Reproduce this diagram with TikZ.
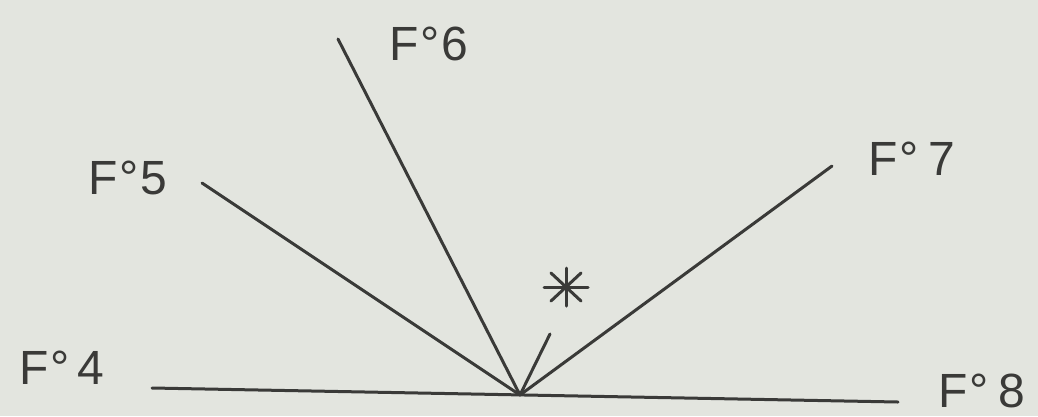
\documentclass[tikz,border=0pt]{standalone}
\usepackage{fontspec}
\setmainfont{Liberation Sans}
\definecolor{paper}{RGB}{227,229,223}
\definecolor{ink}{RGB}{58,58,56}
\tikzset{
  stroke/.style={draw=ink, line width=3pt, line cap=round},
  lbl/.style={text=ink, inner sep=0pt, font=\fontsize{48}{52}\selectfont},
}
\newcommand{\dg}{\kern2pt°\kern2pt}
\begin{document}
\begin{tikzpicture}[x=1pt,y=-1pt]
\fill[paper] (0,0) rectangle (1038,416);
\useasboundingbox (0,0) rectangle (1038,416);
% points
\coordinate (V) at (520,395);
\coordinate (L) at (152,388);
\coordinate (R) at (898,402);
\coordinate (E5) at (202,183);
\coordinate (E6) at (338,39);
\coordinate (E7) at (832,166);
\coordinate (S) at (550,334);
\coordinate (A) at (566,287);
% labels
\node[lbl] (f4) at (62,368) {F\dg\kern6pt 4};
\node[lbl] (f5) at (128,178) {F\dg 5};
\node[lbl] (f6) at (429,44) {F\dg 6};
\node[lbl] (f7) at (912,159) {F\dg\kern8pt 7};
\node[lbl] (f8) at (982,391) {F\dg\kern8pt 8};
% lines
\draw[stroke] (L) -- (R);
\draw[stroke] (E5) -- (V);
\draw[stroke] (E6) -- (V);
\draw[stroke] (E7) -- (V);
\draw[stroke] (V) -- (S);
% asterisk
\draw[stroke] ([yshift=-19pt]A) -- ([yshift=19pt]A);
\draw[stroke] ([xshift=-22pt]A) -- ([xshift=22pt]A);
\draw[stroke] ([shift={(-15pt,-14pt)}]A) -- ([shift={(15pt,14pt)}]A);
\draw[stroke] ([shift={(-15pt,14pt)}]A) -- ([shift={(15pt,-14pt)}]A);
\end{tikzpicture}
\end{document}
